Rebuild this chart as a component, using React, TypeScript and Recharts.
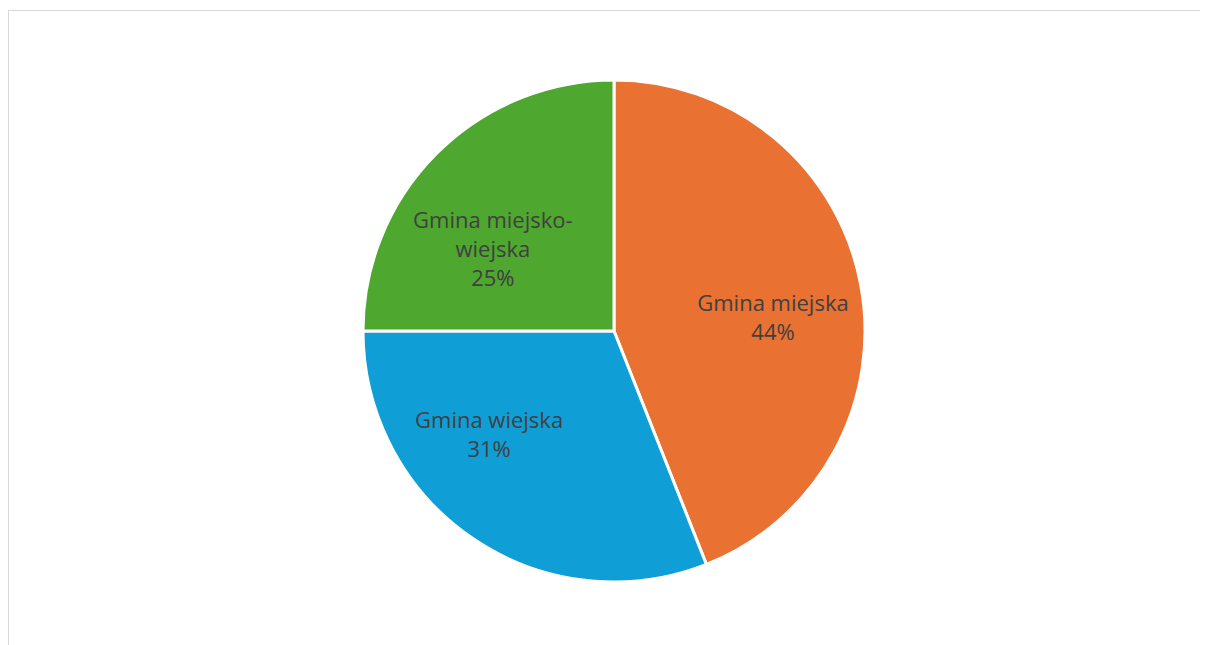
import { PieChart, Pie, Cell } from 'recharts';

// typy gmin i ich udział
const categories = ['Gmina miejska', 'Gmina wiejska', 'Gmina miejsko-wiejska'];
const shares = [44, 31, 25];
const colors = ['#E97132', '#0F9ED5', '#4EA72E'];

// etykiety w kilku liniach (jak w Excelu)
const labelLines = [['Gmina miejska'], ['Gmina wiejska'], ['Gmina miejsko-', 'wiejska']];

// przesunięcie etykiet względem środka wycinka (best fit)
const labelAngleShift = [-5.6, -16.4, 10.6];
const labelRadiusFactor = [0.636, 0.644, 0.585];

const data = categories.map((name, i) => ({ name, value: shares[i] }));

const RAD = Math.PI / 180;
const LINE_H = 29;

const renderLabel = (props: any) => {
  const { cx, cy, midAngle, outerRadius, index, percent } = props;
  const angle = midAngle + labelAngleShift[index];
  const r = outerRadius * labelRadiusFactor[index];
  const x = cx + r * Math.cos(-angle * RAD);
  const y = cy + r * Math.sin(-angle * RAD);
  const lines = [...labelLines[index], `${Math.round(percent * 100)}%`];
  const top = y - ((lines.length - 1) * LINE_H) / 2;
  return (
    <text
      x={x}
      y={top}
      textAnchor="middle"
      dominantBaseline="central"
      fill="#404040"
      fontSize={22}
      fontFamily="'Open Sans', sans-serif"
    >
      {lines.map((l, i) => (
        <tspan key={i} x={x} dy={i === 0 ? 0 : LINE_H}>
          {l}
        </tspan>
      ))}
    </text>
  );
};

export default function App() {
  return (
    <div
      style={{
        marginTop: 2,
        width: 1199,
        height: 634,
        borderLeft: '1px solid #d9d9d9',
        borderTop: '1px solid #d9d9d9',
        background: '#fff',
      }}
    >
      <PieChart width={1199} height={634}>
        <Pie
          data={data}
          dataKey="value"
          nameKey="name"
          cx={600}
          cy={315}
          outerRadius={251}
          startAngle={90}
          endAngle={-270}
          stroke="#fff"
          strokeWidth={3}
          label={renderLabel}
          labelLine={false}
          isAnimationActive={false}
        >
          {data.map((d, i) => (
            <Cell key={d.name} fill={colors[i]} />
          ))}
        </Pie>
      </PieChart>
    </div>
  );
}
